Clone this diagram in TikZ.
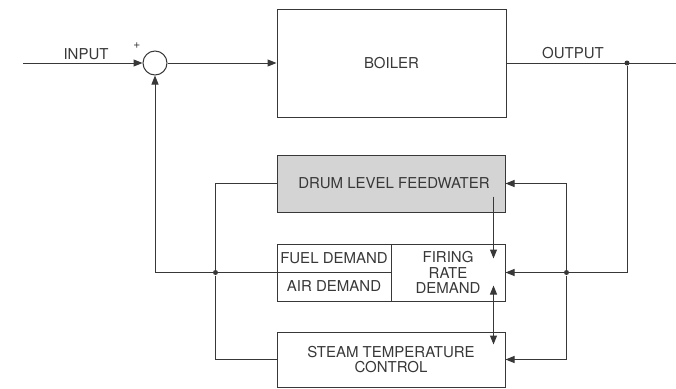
\documentclass[tikz,border=0pt]{standalone}
\usepackage{fontspec}
\setmainfont{TeX Gyre Heros}
\usetikzlibrary{arrows.meta,positioning,calc}

\begin{document}
\begin{tikzpicture}[
  x=1pt, y=-1pt,
  color=black!78,
  line width=1pt,
  font=\fontsize{15}{15.5}\selectfont,
  box/.style={draw, align=center, inner sep=0pt},
  arr/.style={-{Triangle[length=9pt,width=7pt]}},
  darr/.style={{Triangle[length=9pt,width=7pt]}-{Triangle[length=9pt,width=7pt]}},
  junc/.style={circle, fill, inner sep=0pt, minimum size=5pt}
]
\useasboundingbox (0,0) rectangle (676,388);
\node[box, minimum width=229pt, minimum height=108pt] (boiler) at (391.5,63) {BOILER};
\node[draw, circle, minimum size=24pt, inner sep=0pt] (sum) at (155,63) {};
\coordinate (in) at (23,63);
\coordinate (out) at (676,63);
\node[junc] (tap) at (627,63) {};
\node[box, fill=black!17, minimum width=228pt, minimum height=57pt] (drum) at (391,183.5) {\hspace*{6pt}DRUM LEVEL FEEDWATER};
\node[box, minimum width=114pt, minimum height=28pt] (fuel) at (334,258) {FUEL DEMAND};
\node[box, minimum width=114pt, minimum height=29pt] (air) at (334,286.5) {AIR DEMAND};
\node[box, minimum width=114pt, minimum height=57pt] (fire) at (448,272.5) {FIRING\\RATE\\DEMAND};
\node[box, minimum width=228pt, minimum height=55pt] (stc) at (391,359.5) {STEAM TEMPERATURE\\CONTROL};

% labels on the main line
\node (inlbl) at (86,54) {INPUT};
\node[font=\fontsize{12}{12}\selectfont] (plus) at (137,46) {+};
\node (outlbl) at (573,53) {OUTPUT};

% junctions
\node[junc] (rj) at ($(fire.east)+(61,0)$) {};
\node[junc] (lj) at ($(fuel.south west)+(-61,0)$) {};

\draw[arr] (in) -- (sum.west);
\draw[arr] (sum.east) -- (boiler.west);
\draw (boiler.east) -- (out);
\draw[arr] (tap) |- (fire.east);
\draw[arr] (rj) |- (drum.east);
\draw[arr] (rj) |- (stc.east);
\draw[arr] (fuel.south west) -| (sum.south);
\draw (drum.west) -| (lj) |- (stc.west);
\draw[arr] ($(drum.south east)+(-12,-16)$) -- ($(fire.north east)+(-12,15)$);
\draw[darr] ($(fire.south east)+(-12,-16)$) -- ($(stc.north east)+(-12,13)$);
\end{tikzpicture}
\end{document}
